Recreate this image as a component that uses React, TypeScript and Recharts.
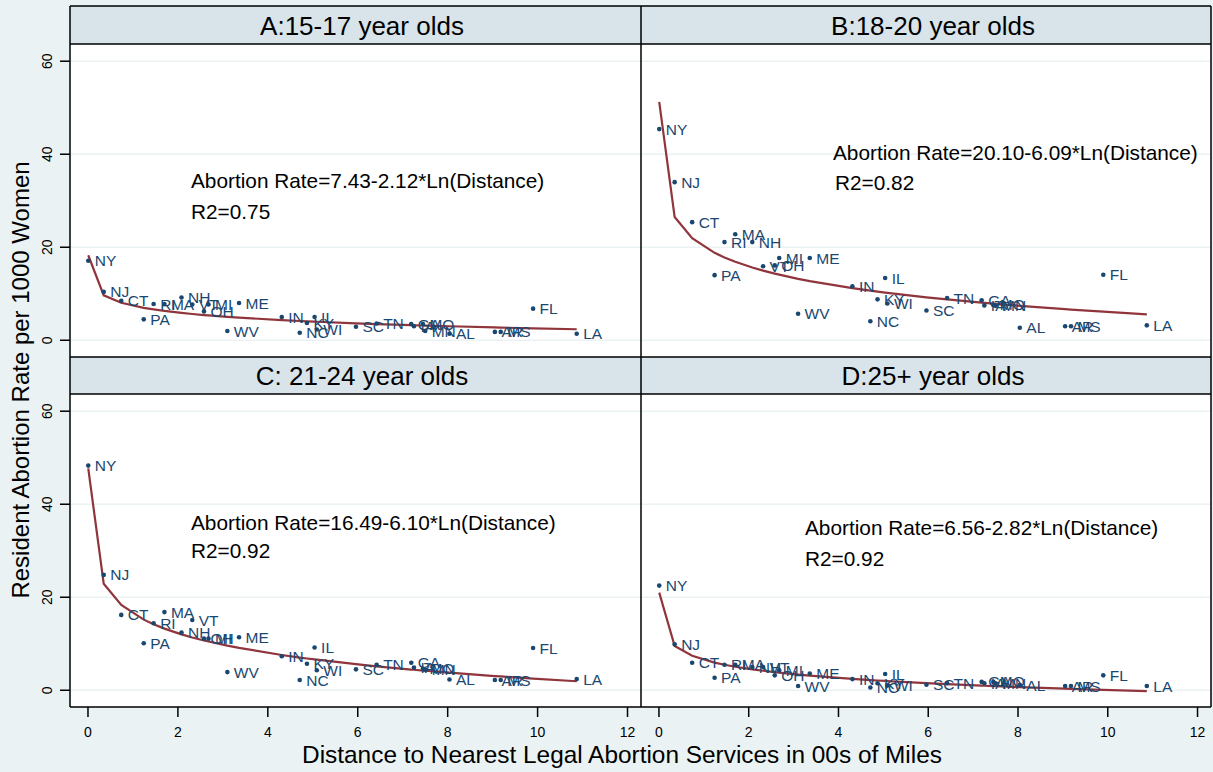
import React from "react";
import { ComposedChart, Scatter, Line, XAxis, YAxis, CartesianGrid } from "recharts";

const states = ["NY", "NJ", "CT", "PA", "RI", "MA", "NH", "VT", "OH", "MI", "WV", "ME", "IN", "NC", "KY", "IL", "WI", "SC", "TN", "GA", "IA", "MO", "MN", "AL", "AR", "MS", "FL", "LA"];
const distance = [0.006, 0.35, 0.74, 1.24, 1.46, 1.7, 2.08, 2.32, 2.58, 2.68, 3.1, 3.36, 4.31, 4.71, 4.87, 5.04, 5.09, 5.96, 6.42, 7.19, 7.25, 7.45, 7.5, 8.04, 9.05, 9.18, 9.9, 10.87];

// resident abortion rates per 1000 women, by age group
const rate1517 = [17.1, 10.4, 8.5, 4.5, 7.8, 7.8, 9.2, 7.7, 6.2, 7.7, 2.0, 8.0, 5.0, 1.6, 3.7, 5.0, 2.3, 2.9, 3.6, 3.5, 3.0, 3.5, 2.0, 1.4, 1.8, 1.8, 6.8, 1.4];
const rate1820 = [45.4, 34.0, 25.4, 14.0, 21.1, 22.8, 21.1, 15.9, 16.1, 17.7, 5.7, 17.7, 11.6, 4.1, 8.8, 13.4, 7.9, 6.4, 9.1, 8.6, 7.5, 7.6, 7.4, 2.7, 3.0, 3.0, 14.1, 3.2];
const rate2124 = [48.3, 24.8, 16.2, 10.1, 14.4, 16.8, 12.4, 15.1, 11.1, 11.1, 3.9, 11.4, 7.3, 2.2, 5.7, 9.2, 4.3, 4.5, 5.5, 5.9, 4.9, 4.6, 4.4, 2.3, 2.2, 2.2, 9.1, 2.4];
const rate25 = [22.5, 9.9, 5.9, 2.7, 5.5, 5.5, 5.0, 5.0, 3.2, 4.3, 0.9, 3.6, 2.4, 0.6, 1.5, 3.5, 1.0, 1.2, 1.5, 1.8, 1.5, 1.8, 1.5, 1.1, 0.9, 0.9, 3.2, 0.9];

// fitted values (red line)
const fit1517 = [18.28, 9.66, 8.07, 6.97, 6.63, 6.3, 5.88, 5.65, 5.42, 5.34, 5.03, 4.86, 4.33, 4.14, 4.07, 4.0, 3.98, 3.65, 3.49, 3.25, 3.23, 3.17, 3.16, 3.01, 2.76, 2.73, 2.57, 2.37];
const fit1820 = [51.26, 26.49, 21.93, 18.79, 17.8, 16.87, 15.64, 14.97, 14.33, 14.1, 13.21, 12.72, 11.2, 10.66, 10.46, 10.25, 10.19, 9.23, 8.78, 8.08, 8.04, 7.87, 7.83, 7.41, 6.68, 6.6, 6.14, 5.57];
const fit2124 = [47.7, 22.9, 18.33, 15.18, 14.18, 13.25, 12.02, 11.35, 10.71, 10.48, 9.59, 9.1, 7.58, 7.03, 6.83, 6.63, 6.57, 5.6, 5.15, 4.45, 4.41, 4.24, 4.2, 3.78, 3.05, 2.97, 2.5, 1.94];
const fit25 = [20.99, 9.52, 7.41, 5.95, 5.49, 5.06, 4.5, 4.19, 3.89, 3.78, 3.37, 3.14, 2.44, 2.19, 2.1, 2.0, 1.97, 1.53, 1.32, 1.0, 0.97, 0.9, 0.88, 0.68, 0.35, 0.31, 0.09, -0.17];

const xTicks = [0, 2, 4, 6, 8, 10, 12];
const yTicks = [0, 20, 40, 60];

const NAVY = "#1a476f";
const MAROON = "#90353b";
const BG = "#eaf2f3";
const STRIP = "#d8e4ea";
const FONT = "'Liberation Sans', Arial, Helvetica, sans-serif";

const rows = (rate: number[], fit: number[]) =>
  states.map((s, i) => ({ state: s, x: distance[i], rate: rate[i], fit: fit[i] }));

const StateDot = (props: any) => {
  const { cx, cy, payload } = props;
  if (cx == null || cy == null) return null;
  return (
    <g>
      <circle cx={cx} cy={cy} r={2.3} fill={NAVY} />
      <text x={cx + 6.5} y={cy} dy="0.36em" fontSize={15.5} fill={NAVY} fontFamily={FONT}>
        {payload.state}
      </text>
    </g>
  );
};

const YTick = (props: any) => {
  const { x, y, payload } = props;
  return (
    <text x={x} y={y} transform={`rotate(-90 ${x} ${y})`} textAnchor="middle" fontSize={14} fill="#000" fontFamily={FONT}>
      {payload.value}
    </text>
  );
};

function Panel({ data, left, top, width, showX, showY }: any) {
  const height = showX ? 368 : 313;
  return (
    <div style={{ position: "absolute", left, top, width, height }}>
      <ComposedChart width={width} height={height} data={data} margin={{ top: 0, right: 0, bottom: 0, left: 0 }}>
        <CartesianGrid vertical={false} stroke={BG} strokeWidth={1.5} />
        <XAxis
          type="number"
          dataKey="x"
          domain={[-0.4, 12.3]}
          allowDataOverflow
          ticks={xTicks}
          hide={!showX}
          height={55}
          axisLine={false}
          tickSize={10}
          tickMargin={10}
          tickLine={{ stroke: "#000", strokeWidth: 1.5 }}
          tick={{ fontSize: 14, fill: "#000", fontFamily: FONT }}
        />
        <YAxis
          type="number"
          domain={[-3.6, 63.7]}
          allowDataOverflow
          ticks={yTicks}
          hide={!showY}
          width={70}
          axisLine={false}
          tickSize={10}
          tickMargin={8}
          tickLine={{ stroke: "#000", strokeWidth: 1.5 }}
          tick={<YTick />}
        />
        <Line type="linear" dataKey="fit" stroke={MAROON} strokeWidth={2.2} dot={false} isAnimationActive={false} />
        <Scatter dataKey="rate" shape={StateDot} isAnimationActive={false} />
      </ComposedChart>
    </div>
  );
}

export default function App() {
  const txt = { fontFamily: FONT, fill: "#000" };
  return (
    <div style={{ position: "absolute", left: 0, top: 0, width: 1213, height: 772, background: BG, overflow: "hidden" }}>
      <svg width={1213} height={772} style={{ position: "absolute", left: 0, top: 0 }}>
        <rect x={70} y={6} width={1141} height={38} fill={STRIP} />
        <rect x={70} y={357} width={1141} height={37} fill={STRIP} />
        <rect x={70} y={44} width={1141} height={313} fill="#fff" />
        <rect x={70} y={394} width={1141} height={313} fill="#fff" />
      </svg>

      <Panel data={rows(rate1517, fit1517)} left={0} top={44} width={641} showY showX={false} />
      <Panel data={rows(rate1820, fit1820)} left={641} top={44} width={570} showY={false} showX={false} />
      <Panel data={rows(rate2124, fit2124)} left={0} top={394} width={641} showY showX />
      <Panel data={rows(rate25, fit25)} left={641} top={394} width={570} showY={false} showX />

      <svg width={1213} height={772} style={{ position: "absolute", left: 0, top: 0, pointerEvents: "none" }}>
        <g stroke="#000" strokeWidth={1.5}>
          <line x1={70} y1={6} x2={1211} y2={6} />
          <line x1={70} y1={44} x2={1211} y2={44} />
          <line x1={70} y1={357} x2={1211} y2={357} />
          <line x1={70} y1={394} x2={1211} y2={394} />
          <line x1={70} y1={707} x2={1211} y2={707} />
          <line x1={70} y1={6} x2={70} y2={707} />
          <line x1={641} y1={6} x2={641} y2={707} />
          <line x1={1211} y1={6} x2={1211} y2={707} />
        </g>
        <g {...txt} fontSize={26} textAnchor="middle">
          <text x={362} y={35}>A:15-17 year olds</text>
          <text x={933} y={35}>B:18-20 year olds</text>
          <text x={362} y={385}>C: 21-24 year olds</text>
          <text x={933} y={385}>D:25+ year olds</text>
        </g>
        <g {...txt} fontSize={20.8}>
          <text x={191} y={188}>Abortion Rate=7.43-2.12*Ln(Distance)</text>
          <text x={191} y={219}>R2=0.75</text>
          <text x={833} y={160}>Abortion Rate=20.10-6.09*Ln(Distance)</text>
          <text x={835} y={190}>R2=0.82</text>
          <text x={191} y={530}>Abortion Rate=16.49-6.10*Ln(Distance)</text>
          <text x={191} y={558}>R2=0.92</text>
          <text x={805} y={535}>Abortion Rate=6.56-2.82*Ln(Distance)</text>
          <text x={805} y={566}>R2=0.92</text>
        </g>
        <text {...txt} x={622} y={763} fontSize={24.4} textAnchor="middle">
          Distance to Nearest Legal Abortion Services in 00s of Miles
        </text>
        <text {...txt} x={29} y={380} fontSize={24} textAnchor="middle" transform="rotate(-90 29 380)">
          Resident Abortion Rate per 1000 Women
        </text>
      </svg>
    </div>
  );
}
